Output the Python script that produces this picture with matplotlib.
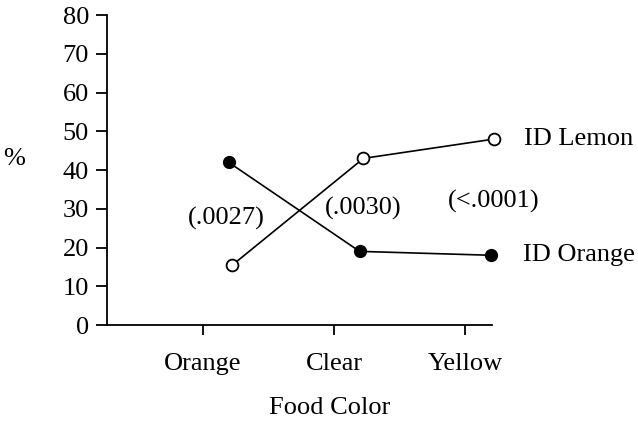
import matplotlib
matplotlib.use("Agg")
import matplotlib.pyplot as plt

categories = ["Orange", "Clear", "Yellow"]
id_lemon = [15.5, 43, 48]
id_orange = [42, 19, 18]
series_names = ["ID Lemon", "ID Orange"]
p_values = ["(.0027)", "(.0030)", "(<.0001)"]
p_label_y = [27.5, 30, 32]
y_ticks = [0, 10, 20, 30, 40, 50, 60, 70, 80]

plt.rcParams['font.family'] = ['Liberation Serif', 'DejaVu Serif']
plt.rcParams['font.size'] = 19

fig = plt.figure(figsize=(6.38, 4.25), dpi=100)
ax = fig.add_axes([107/638, 100/425, (492-107)/638, 310/425])

xt = list(range(len(categories)))
off_lemon = 0.225
off_orange = 0.195
xl = [x + off_lemon for x in xt]
xo = [x + off_orange for x in xt]

ax.plot(xl, id_lemon, '-o', color='black', mfc='white', mec='black', ms=8.5,
        lw=1.2, mew=1.3, clip_on=False, zorder=3)
ax.plot(xo, id_orange, '-o', color='black', mfc='black', mec='black', ms=8.5,
        lw=1.2, clip_on=False, zorder=3)

ax.annotate(series_names[0], xy=(xl[-1], id_lemon[-1]), xytext=(21, 0),
            textcoords='offset points', va='center', ha='left', annotation_clip=False)
ax.annotate(series_names[1], xy=(xo[-1], id_orange[-1]), xytext=(23, 0),
            textcoords='offset points', va='center', ha='left', annotation_clip=False)

for i, p in enumerate(p_values):
    ax.text(xt[i] + 0.18 + (0.0 if i == 0 else 0.04), p_label_y[i], p, ha='center', va='center')

ax.set_xlim(-0.733, 2.206)
ax.set_ylim(0, 80)
ax.set_yticks(y_ticks)
ax.set_xticks(xt)
ax.set_xticklabels(categories)

for s in ['top', 'right']:
    ax.spines[s].set_visible(False)
for s in ['left', 'bottom']:
    ax.spines[s].set_linewidth(1.3)
ax.tick_params(axis='y', direction='out', length=8, width=1.3, pad=5)
ax.tick_params(axis='x', direction='out', length=7.5, width=1.3, pad=13)

ax.set_xlabel("Food Color")
ax.xaxis.set_label_coords((330 - 107) / 385, (325 - 408) / 310)
ax.xaxis.label.set_va('center')
fig.text(14/638, 1 - 159/425, "%", ha='center', va='center')

fig.savefig("out.png", dpi=100)
